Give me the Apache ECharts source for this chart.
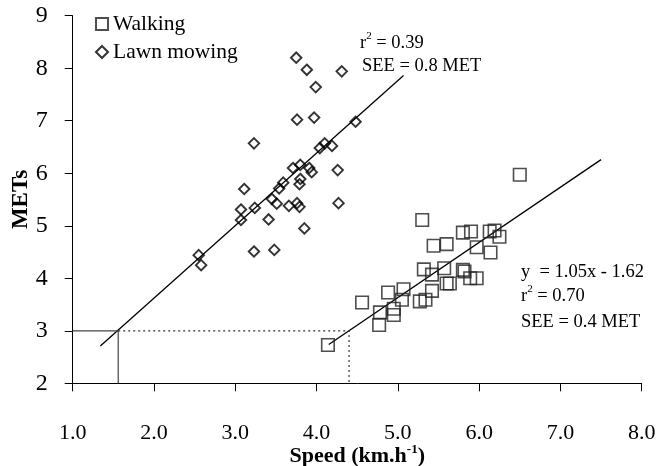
<!DOCTYPE html>
<html>
<head>
<meta charset="utf-8">
<script src="https://cdn.jsdelivr.net/npm/echarts@6/dist/echarts.min.js"></script>
<style>html,body{margin:0;padding:0;background:#fff}#c{width:664px;height:466px}</style>
</head>
<body>
<div id="c"></div>
<script>
// ---- data ----
const walkX = [6.50,5.30,5.80,5.90,6.13,6.19,6.25,5.44,5.60,5.97,6.14,5.32,5.42,5.57,5.80,5.82,5.89,5.97,5.60,5.64,4.88,5.07,4.56,5.42,5.27,5.34,5.05,4.78,4.95,4.95,4.77,4.14];
const walkY = [5.97,5.11,4.87,4.89,4.89,4.91,4.79,4.62,4.65,4.59,4.49,4.17,4.07,4.19,4.16,4.13,4.00,4.00,3.90,3.90,3.73,3.79,3.54,3.76,3.56,3.59,3.59,3.35,3.42,3.30,3.11,2.73];
const lawnX = [3.75,3.88,4.31,3.99,3.76,3.97,4.48,3.23,4.10,4.04,4.19,4.26,3.71,3.80,3.91,3.94,3.80,3.79,3.59,3.54,3.11,3.45,3.51,4.27,3.66,3.76,3.79,3.24,3.07,3.07,3.41,3.85,3.23,3.48,2.55,2.58];
const lawnY = [8.20,7.97,7.94,7.64,7.02,7.06,6.98,6.57,6.57,6.48,6.52,6.06,6.10,6.16,6.10,6.02,5.89,5.79,5.82,5.71,5.70,5.51,5.42,5.43,5.38,5.43,5.36,5.34,5.31,5.11,5.12,4.95,4.51,4.54,4.44,4.25];
const lawnLineX = [1.34, 5.07];
const lawnLineY = [2.71, 7.86];
const walkLineX = [4.15, 7.50];
const walkLineY = [2.74, 6.26];
const solidRefX = [1.0, 1.56, 1.56];
const solidRefY = [3.0, 3.0, 2.0];
const dotRefX = [1.56, 4.40, 4.40];
const dotRefY = [3.0, 3.0, 2.0];
const xTicks = [1, 2, 3, 4, 5, 6, 7, 8];
const yTicks = [2, 3, 4, 5, 6, 7, 8, 9];
const seriesNames = ['Walking', 'Lawn mowing'];

const zip = (a, b) => a.map((v, i) => [v, b[i]]);
const FONT = '"Liberation Serif", "Times New Roman", serif';

const chart = echarts.init(document.getElementById('c'), null, {renderer: 'canvas'});
const supRich = (size) => ({
  n: {fontFamily: FONT, fontSize: size, fill: '#000', lineHeight: 22, verticalAlign: 'bottom'},
  s: {fontFamily: FONT, fontSize: 11, fill: '#000', lineHeight: 22, verticalAlign: 'top'}
});
chart.setOption({
  animation: false,
  backgroundColor: '#fff',
  grid: {left: 72.7, right: 22.3, top: 15.7, bottom: 82.7, containLabel: false, outerBoundsMode: 'none'},
  legend: {
    data: seriesNames,
    orient: 'vertical',
    left: 90, top: 8,
    itemWidth: 12, itemHeight: 12, itemGap: 6,
    textStyle: {fontFamily: FONT, fontSize: 21.5, color: '#000'},
    selectedMode: false
  },
  xAxis: {
    type: 'value', min: xTicks[0], max: xTicks[xTicks.length - 1], interval: 1,
    axisLine: {lineStyle: {color: '#000', width: 1}},
    axisTick: {show: true, length: 8, lineStyle: {color: '#000'}},
    splitLine: {show: false},
    axisLabel: {margin: 39, fontFamily: FONT, fontSize: 22, color: '#000', formatter: v => v.toFixed(1)},
    name: '{b|Speed (km.h}{s|-1}{b|)}',
    nameLocation: 'middle', nameGap: 60, nameMoveOverlap: false,
    nameTextStyle: {
      rich: {
        b: {fontFamily: FONT, fontSize: 22, fontWeight: 'bold', color: '#000', lineHeight: 24, verticalAlign: 'bottom'},
        s: {fontFamily: FONT, fontSize: 13, fontWeight: 'bold', color: '#000', lineHeight: 24, verticalAlign: 'top', padding: [0, 0, 8, 0]}
      }
    }
  },
  yAxis: {
    type: 'value', min: yTicks[0], max: yTicks[yTicks.length - 1], interval: 1,
    axisLine: {show: true, lineStyle: {color: '#000', width: 1}},
    axisTick: {show: true, length: 8, lineStyle: {color: '#000'}},
    splitLine: {show: false},
    axisLabel: {margin: 25, fontFamily: FONT, fontSize: 24, color: '#000'},
    name: 'METs', nameLocation: 'middle', nameGap: 40, nameRotate: 90, nameMoveOverlap: false,
    nameTextStyle: {fontFamily: FONT, fontSize: 23, fontWeight: 'bold', color: '#000'}
  },
  series: [
    {
      name: seriesNames[0], type: 'scatter', symbol: 'rect', symbolSize: 12.5,
      itemStyle: {color: 'rgba(255,255,255,0)', borderColor: '#222', borderWidth: 1.6},
      data: zip(walkX, walkY), z: 3
    },
    {
      name: seriesNames[1], type: 'scatter', symbol: 'diamond', symbolSize: [10.5, 10.5],
      itemStyle: {color: 'rgba(255,255,255,0)', borderColor: '#000', borderWidth: 1.9},
      data: zip(lawnX, lawnY), z: 3
    },
    {
      type: 'line', data: zip(lawnLineX, lawnLineY), symbol: 'none',
      lineStyle: {color: '#000', width: 1.3}, z: 2, silent: true
    },
    {
      type: 'line', data: zip(walkLineX, walkLineY), symbol: 'none',
      lineStyle: {color: '#000', width: 1.3}, z: 2, silent: true
    },
    {
      type: 'line', data: zip(solidRefX, solidRefY), symbol: 'none',
      lineStyle: {color: '#444', width: 1.2}, z: 2, silent: true
    },
    {
      type: 'line', data: zip(dotRefX, dotRefY), symbol: 'none',
      lineStyle: {color: '#333', width: 1.2, type: [2, 3]}, z: 2, silent: true
    }
  ],
  graphic: [
    {
      type: 'text', left: 360, top: 31,
      style: {text: '{n|r}{s|2}{n| = 0.39}', rich: supRich(18.5)}
    },
    {
      type: 'text', left: 362, top: 57,
      style: {text: 'SEE = 0.8 MET', fontFamily: FONT, fontSize: 18.5, fill: '#000'}
    },
    {
      type: 'text', left: 521, top: 263,
      style: {text: 'y  = 1.05x - 1.62', fontFamily: FONT, fontSize: 18.5, fill: '#000'}
    },
    {
      type: 'text', left: 521, top: 284,
      style: {text: '{n|r}{s|2}{n| = 0.70}', rich: supRich(18.5)}
    },
    {
      type: 'text', left: 521, top: 313,
      style: {text: 'SEE = 0.4 MET', fontFamily: FONT, fontSize: 18.5, fill: '#000'}
    }
  ]
});
</script>
</body>
</html>
